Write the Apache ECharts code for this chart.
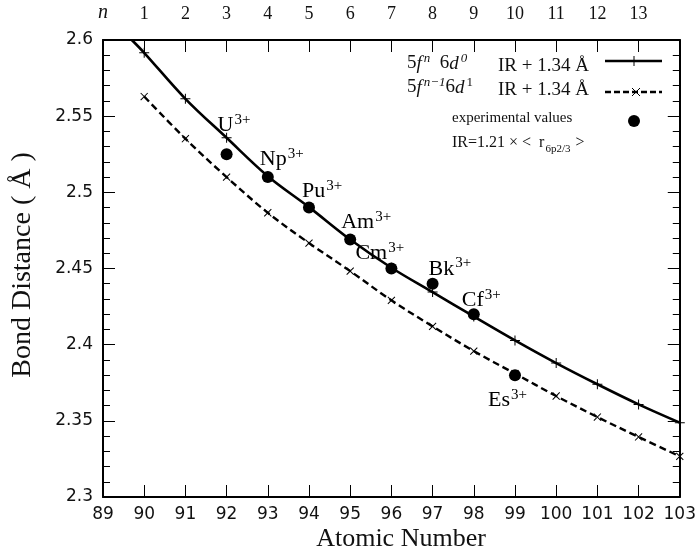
<!DOCTYPE html>
<html><head><meta charset="utf-8">
<script src="https://cdn.jsdelivr.net/npm/echarts@6/dist/echarts.min.js"></script>
<style>html,body{margin:0;padding:0;background:#fff}#c{width:699px;height:557px}</style>
</head><body><div id="c"></div>
<script>
// ---- data ----
const atomicNumbers = [90, 91, 92, 93, 94, 95, 96, 97, 98, 99, 100, 101, 102, 103];
const solidStart = [89.7, 2.6]; // where the 5f^n curve enters the frame
const solidValues = [2.5916, 2.5614, 2.5358, 2.5106, 2.4903, 2.4690, 2.4505, 2.4345, 2.4185, 2.4028, 2.3879, 2.3740, 2.3608, 2.3488];
const dashedValues = [2.5629, 2.5352, 2.5100, 2.4866, 2.4667, 2.4483, 2.4291, 2.4120, 2.3958, 2.3810, 2.3663, 2.3525, 2.3394, 2.3267];
const expElements = ['U', 'Np', 'Pu', 'Am', 'Cm', 'Bk', 'Cf', 'Es'];
const expNumbers = [92, 93, 94, 95, 96, 97, 98, 99];
const expValues = [2.525, 2.510, 2.490, 2.469, 2.450, 2.440, 2.420, 2.380];
const bottomTickLabels = ['89','90','91','92','93','94','95','96','97','98','99','100','101','102','103'];
const topTickLabels = ['n','1','2','3','4','5','6','7','8','9','10','11','12','13',''];
const xTitle = 'Atomic Number';
const yTitle = 'Bond Distance ( Å )';

// ---- styling (label offsets in px, not data) ----
const labelOffsets = [[-3,-12],[-2,-1],[-1,1],[-3,0],[-30,2],[2,2],[-6,3],[-21,42]];

const SERIF = 'Liberation Serif';
const SANS = 'DejaVu Sans';
const plusPath = 'path://M-0.1,-1H0.1V1H-0.1Z M-1,-0.1H1V0.1H-1Z';

const solidData = [{value: solidStart, symbol: 'none'}].concat(atomicNumbers.map((x, i) => [x, solidValues[i]]));
const dashedData = atomicNumbers.map((x, i) => [x, dashedValues[i]]);
const expData = expNumbers.map((x, i) => ({
  value: [x, expValues[i]],
  label: {
    show: true,
    position: [0, 0],
    align: 'left',
    verticalAlign: 'bottom',
    offset: labelOffsets[i],
    formatter: '{m|' + expElements[i] + '}{s|3+}'
  }
}));
const topAxisData = topTickLabels.map((t, i) => i === 0
  ? {value: t, textStyle: {fontStyle: 'italic', fontSize: 20}}
  : t);

const richSup = {
  m: {fontFamily: SERIF, fontSize: 22, color: '#000', verticalAlign: 'bottom'},
  s: {fontFamily: SERIF, fontSize: 15, color: '#000', verticalAlign: 'bottom', padding: [0, 0, 9, 1]}
};

const tickStyle = () => ({show: true, inside: true, length: 12, lineStyle: {color: '#000', width: 1}});
const minorStyle = () => ({show: true, splitNumber: 5, length: 7, lineStyle: {color: '#000', width: 1}});
const lineAxis = () => ({show: true, onZero: false, lineStyle: {color: '#000', width: 2}});

const chart = echarts.init(document.getElementById('c'));
const option = {
  animation: false,
  grid: {left: 103, right: 17, top: 40, bottom: 60},
  xAxis: [{
    type: 'value', min: 89, max: 103, interval: 1, position: 'bottom',
    axisLine: lineAxis(), axisTick: tickStyle(), splitLine: {show: false},
    axisLabel: {margin: 9, fontFamily: SANS, fontSize: 17, color: '#111'}
  }, {
    type: 'category', data: topAxisData, boundaryGap: false, position: 'top',
    axisLine: lineAxis(), axisTick: Object.assign(tickStyle(), {interval: 0}), splitLine: {show: false},
    axisLabel: {interval: 0, margin: 17, fontFamily: SERIF, fontSize: 18, color: '#111'}
  }],
  yAxis: [{
    type: 'value', min: 2.3, max: 2.6, interval: 0.05, position: 'left',
    axisLine: lineAxis(), axisTick: tickStyle(), minorTick: minorStyle(), splitLine: {show: false},
    axisLabel: {margin: 10, fontFamily: SANS, fontSize: 17, color: '#111'}
  }, {
    type: 'value', min: 2.3, max: 2.6, interval: 0.05, position: 'right',
    axisLine: lineAxis(), axisTick: tickStyle(), minorTick: minorStyle(), splitLine: {show: false},
    axisLabel: {show: false}
  }],
  series: [{
    type: 'line', xAxisIndex: 0, yAxisIndex: 0, smooth: 0.35,
    data: solidData,
    symbol: plusPath, symbolSize: 10,
    itemStyle: {color: '#000'},
    lineStyle: {color: '#000', width: 2.6},
    z: 3
  }, {
    type: 'line', xAxisIndex: 0, yAxisIndex: 0, smooth: 0.35,
    data: dashedData,
    symbol: plusPath, symbolSize: 10, symbolRotate: 45,
    itemStyle: {color: '#000'},
    lineStyle: {color: '#000', width: 2.4, type: [7, 4]},
    z: 3
  }, {
    type: 'scatter', xAxisIndex: 0, yAxisIndex: 0,
    data: expData,
    symbol: 'circle', symbolSize: 12,
    itemStyle: {color: '#000', opacity: 1},
    label: {rich: richSup},
    z: 4
  }],
  graphic: [
    {type: 'text', x: 401, y: 539, style: {text: xTitle, font: '26px "Liberation Serif"', fill: '#111', align: 'center', verticalAlign: 'middle'}},
    {type: 'text', x: 23, y: 265, rotation: Math.PI / 2, style: {text: yTitle, font: '28px "Liberation Serif"', fill: '#111', align: 'center', verticalAlign: 'middle'}},
    {type: 'text', left: 407, top: 52, style: {
      text: '{r|5}{i|f}{s|n}{r|  6}{i|d}{s|0}',
      rich: {
        r: {fontFamily: SERIF, fontSize: 19, fill: '#111', verticalAlign: 'bottom'},
        i: {fontFamily: SERIF, fontSize: 19, fontStyle: 'italic', fill: '#111', verticalAlign: 'bottom'},
        s: {fontFamily: SERIF, fontSize: 13, fontStyle: 'italic', fill: '#111', verticalAlign: 'bottom', padding: [0, 0, 8, 2]}
      }}},
    {type: 'text', left: 407, top: 76, style: {
      text: '{r|5}{i|f}{s|n−1}{r|6}{i|d}{t|1}',
      rich: {
        r: {fontFamily: SERIF, fontSize: 19, fill: '#111', verticalAlign: 'bottom'},
        i: {fontFamily: SERIF, fontSize: 19, fontStyle: 'italic', fill: '#111', verticalAlign: 'bottom'},
        s: {fontFamily: SERIF, fontSize: 13, fontStyle: 'italic', fill: '#111', verticalAlign: 'bottom', padding: [0, 0, 8, 2]},
        t: {fontFamily: SERIF, fontSize: 13, fill: '#111', verticalAlign: 'bottom', padding: [0, 0, 8, 2]}
      }}},
    {type: 'text', left: 498, top: 57, style: {text: 'IR + 1.34 Å', font: '19px "Liberation Serif"', fill: '#111'}},
    {type: 'text', left: 498, top: 81, style: {text: 'IR + 1.34 Å', font: '19px "Liberation Serif"', fill: '#111'}},
    {type: 'line', shape: {x1: 605, y1: 61, x2: 662, y2: 61}, style: {stroke: '#000', lineWidth: 2.6}},
    {type: 'line', shape: {x1: 634, y1: 56, x2: 634, y2: 66}, style: {stroke: '#000', lineWidth: 1}},
    {type: 'line', shape: {x1: 605, y1: 92, x2: 662, y2: 92}, style: {stroke: '#000', lineWidth: 2.4, lineDash: [6, 3]}},
    {type: 'line', shape: {x1: 632, y1: 88, x2: 640, y2: 96}, style: {stroke: '#000', lineWidth: 1}},
    {type: 'line', shape: {x1: 632, y1: 96, x2: 640, y2: 88}, style: {stroke: '#000', lineWidth: 1}},
    {type: 'text', left: 452, top: 111, style: {text: 'experimental values', font: '15px "Liberation Serif"', fill: '#111'}},
    {type: 'circle', shape: {cx: 634, cy: 121, r: 6}, style: {fill: '#000'}},
    {type: 'text', left: 452, top: 135, style: {
      text: '{b|IR=1.21 × <  r}{u|6p2/3}{b| >}',
      rich: {
        b: {fontFamily: SERIF, fontSize: 16, fill: '#111', verticalAlign: 'bottom', padding: [0, 0, 4, 0]},
        u: {fontFamily: SERIF, fontSize: 11, fill: '#111', verticalAlign: 'bottom', padding: [0, 1, 0, 1]}
      }}}
  ]
};
chart.setOption(option);
</script>
</body></html>
